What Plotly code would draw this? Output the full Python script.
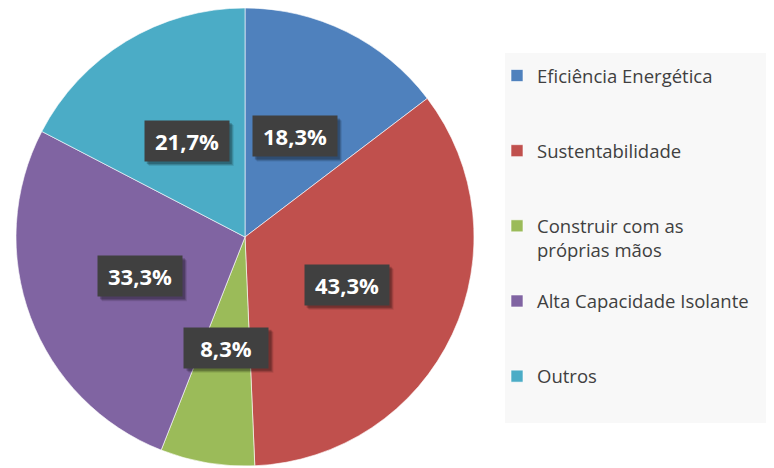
import numpy as np
import plotly.graph_objects as go

labels = ["Eficiência Energética", "Sustentabilidade", "Construir com as<br>próprias mãos",
          "Alta Capacidade Isolante", "Outros"]
values = [18.3, 43.3, 8.3, 33.3, 21.7]
colors = ["#4F81BD", "#C0504D", "#9BBB59", "#8064A2", "#4BACC6"]
text_labels = [f"{v:.1f}%".replace(".", ",") for v in values]

# page body has an 8px margin, so the figure is drawn a little smaller
W, H = 766, 460
dom_x = [8 / W, 466 / W]
dom_y = [1 - 458 / H, 1.0]

# legend entries padded with blank lines to get the wide spacing
legend_labels = [lab + "<br> <br> " if "<br>" not in lab else lab + "<br> " for lab in labels]

fig = go.Figure(go.Pie(
    labels=legend_labels,
    values=values,
    sort=False,
    direction="clockwise",
    rotation=0,
    marker=dict(colors=colors, line=dict(color="rgba(255,255,255,0.6)", width=1)),
    textinfo="none",
    domain=dict(x=dom_x, y=dom_y),
    hoverinfo="skip",
))

# label boxes placed at the mid angle of each slice
cx, cy = np.mean(dom_x), np.mean(dom_y)
R = min((dom_x[1] - dom_x[0]) * W, (dom_y[1] - dom_y[0]) * H) / 2
cum = np.cumsum(values)
mid = (cum - np.array(values) / 2) / cum[-1] * 2 * np.pi
for ang, txt in zip(mid, text_labels):
    x = cx + 0.49 * R * np.sin(ang) / W
    y = cy + 0.49 * R * np.cos(ang) / H
    # soft drop shadow behind the box
    for off, alpha in [(5, 0.10), (4, 0.15), (3, 0.2)]:
        fig.add_shape(type="rect", xref="paper", yref="paper",
                      xsizemode="pixel", ysizemode="pixel", xanchor=x, yanchor=y,
                      x0=-42 + off - 1, x1=42 + off, y0=-20 - off, y1=20 - off + 1,
                      fillcolor=f"rgba(0,0,0,{alpha})", line_width=0)
    fig.add_annotation(x=x, y=y, xref="paper", yref="paper", text="<b>" + txt + "</b>",
                       showarrow=False, borderpad=6, width=72, height=28,
                       xanchor="center", yanchor="middle", bgcolor="#404040",
                       font=dict(family="Open Sans", size=22, color="white"))

# light legend panel
fig.add_shape(type="rect", xref="paper", yref="paper",
              x0=497 / W, x1=1.0, y0=1 - 415 / H, y1=1 - 45 / H,
              fillcolor="#f8f8f8", line_width=0, layer="below")

fig.update_layout(
    width=W, height=H,
    margin=dict(l=0, r=0, t=0, b=0),
    paper_bgcolor="white",
    font=dict(family="Open Sans", color="#404040"),
    legend=dict(x=489 / W, y=1 - 49 / H, xanchor="left", yanchor="top",
                bgcolor="rgba(0,0,0,0)", valign="top",
                font=dict(family="Open Sans", size=18.5, color="#404040")),
)

fig.write_html("out.html")
